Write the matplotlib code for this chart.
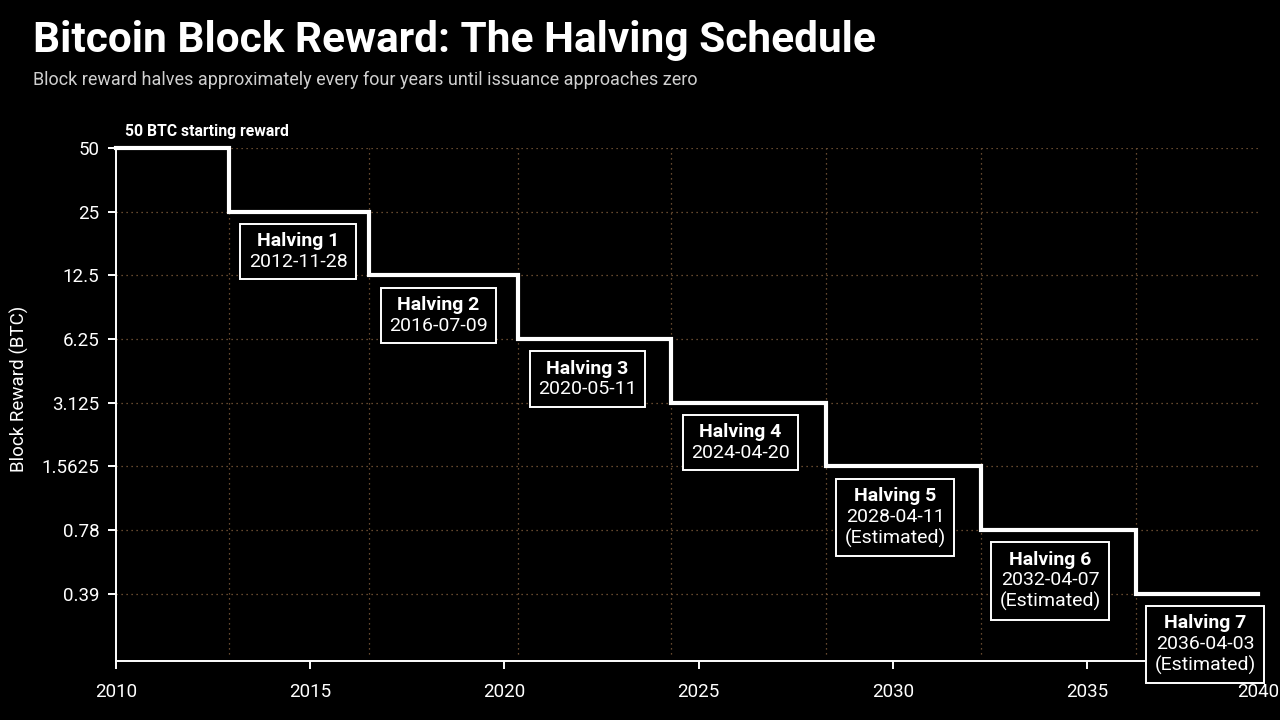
import matplotlib
matplotlib.use("Agg")
import matplotlib.pyplot as plt
from matplotlib import font_manager
from matplotlib.offsetbox import TextArea, VPacker, AnnotationBbox
from datetime import date

# ---- data ----
halving_labels = ["Halving 1", "Halving 2", "Halving 3", "Halving 4",
                  "Halving 5", "Halving 6", "Halving 7"]
halving_dates = ["2012-11-28", "2016-07-09", "2020-05-11", "2024-04-20",
                 "2028-04-11", "2032-04-07", "2036-04-03"]
estimated = [False, False, False, False, True, True, True]
rewards = [50, 25, 12.5, 6.25, 3.125, 1.5625, 0.78125, 0.390625]
ytick_vals = [50, 25, 12.5, 6.25, 3.125, 1.5625, 0.78125, 0.390625]
ytick_labels = ["50", "25", "12.5", "6.25", "3.125", "1.5625", "0.78", "0.39"]
xticks = [2010, 2015, 2020, 2025, 2030, 2035]
xtick_labels = ["2010", "2015", "2020", "2025", "2030", "2035", "2040"]
x_start, x_end = 2010, 2039.4

names = {f.name for f in font_manager.fontManager.ttflist}
FONT = "Liberation Sans Narrow" if "Liberation Sans Narrow" in names else "Roboto"
plt.rcParams["font.family"] = [FONT, "DejaVu Sans"]


def frac_year(s):
    d = date.fromisoformat(s)
    start = date(d.year, 1, 1)
    nxt = date(d.year + 1, 1, 1)
    return d.year + (d - start).days / (nxt - start).days


hx = [frac_year(s) for s in halving_dates]

GRID = "#86603f"
fig = plt.figure(figsize=(12.8, 7.2), dpi=100, facecolor="black")
ax = fig.add_axes([116 / 1280, 1 - 661 / 720, (1258 - 116) / 1280, (661 - 148) / 720])
ax.set_facecolor("black")
ax.set_yscale("log", base=2)
ax.set_xlim(x_start, x_end)
ax.set_ylim(0.188, 50)

# grid
for v in ytick_vals:
    ax.plot([x_start, x_end], [v, v], color=GRID, lw=0.9, ls=(0, (1, 3)), zorder=1)
for x in hx:
    ax.plot([x, x], [0.203, 50], color=GRID, lw=0.9, ls=(0, (1, 3)), zorder=1)

# step line
xs = [x_start] + hx + [x_end]
ys = rewards + [rewards[-1]]
ax.step(xs, ys, where="post", color="white", lw=3.0, zorder=3, clip_on=False,
        solid_joinstyle="miter")

# annotations
for lab, ds, est, x, lvl in zip(halving_labels, halving_dates, estimated, hx, rewards[1:]):
    children = [TextArea(lab, textprops=dict(color="white", fontsize=14, fontweight="bold")),
                TextArea(ds, textprops=dict(color="white", fontsize=14))]
    if est:
        children.append(TextArea("(Estimated)", textprops=dict(color="white", fontsize=14)))
    pack = VPacker(children=children, align="center", pad=0, sep=2)
    ab = AnnotationBbox(pack, (x + 1.78, lvl * 0.80), box_alignment=(0.5, 1.0),
                        frameon=True, pad=0.6,
                        bboxprops=dict(facecolor="black", edgecolor="white", lw=1.4),
                        zorder=4, annotation_clip=False)
    ax.add_artist(ab)

ax.text(x_start + 0.22, 50 * 1.1, "50 BTC starting reward", color="white",
        fontsize=11.3, fontweight="bold", ha="left", va="bottom")

# axes styling
for s in ["top", "right"]:
    ax.spines[s].set_visible(False)
for s in ["left", "bottom"]:
    ax.spines[s].set_color("white")
    ax.spines[s].set_linewidth(1.4)
ax.set_yticks(ytick_vals)
ax.set_yticklabels(ytick_labels)
ax.yaxis.set_minor_locator(matplotlib.ticker.NullLocator())
ax.set_xticks(xticks + [x_end])
ax.set_xticklabels(xtick_labels)
ax.tick_params(colors="white", labelsize=13.5, length=6, width=1.4, pad=6)
ax.tick_params(axis="x", pad=10)
ax.set_ylabel("Block Reward (BTC)", color="white", fontsize=13.5)
ax.yaxis.set_label_coords((29 - 116) / 1142, (661 - 389) / 513)

fig.text(33 / 1280, 1 - 52 / 720, "Bitcoin Block Reward: The Halving Schedule",
         color="white", fontsize=30.5, fontweight="bold", ha="left", va="baseline")
fig.text(33 / 1280, 1 - 85 / 720,
         "Block reward halves approximately every four years until issuance approaches zero",
         color="#d0d0d0", fontsize=13, ha="left", va="baseline")

fig.savefig("out.png", dpi=100, facecolor="black")
